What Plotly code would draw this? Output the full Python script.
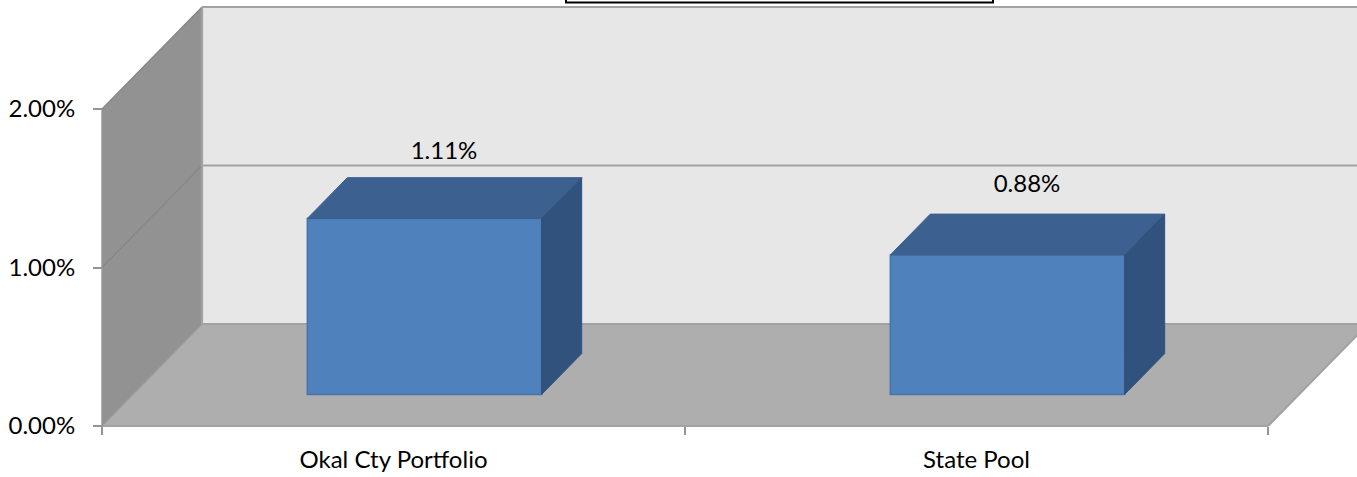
import plotly.graph_objects as go

categories = ["Okal Cty Portfolio", "State Pool"]
values = [1.11, 0.88]
value_labels = ["1.11%", "0.88%"]
y_ticks = [0, 1, 2]
y_tick_labels = ["0.00%", "1.00%", "2.00%"]
x_band_edges = [0, 1, 2]

W, H = 1357, 477
X0, Y0 = 102, 426
PX_X, PX_Y = 583.0, 158.5
DEPTH_X, DEPTH_Y = 100 / PX_X, 102 / PX_Y   # oblique offset of the full floor depth
BAR_W = 0.402
D1, D2 = 0.31, 0.71     # bar front and back depth
LABEL_RAISE = [0.61, 0.635]
FONT = dict(family="Lato", size=24, color="#000000")
EDGE = "#a2a2a2"


def proj(x, y, d=0.0):
    return x + d * DEPTH_X, y + d * DEPTH_Y


def poly_path(pts):
    return "M " + " L ".join(f"{x},{y}" for x, y in pts) + " Z"


def seg(p, q, color=EDGE, width=2.2):
    return dict(type="line", xref="x", yref="y", layer="below",
                x0=p[0], y0=p[1], x1=q[0], y1=q[1],
                line=dict(color=color, width=width))


xmax, ymax = x_band_edges[-1], y_ticks[-1]
shapes = [
    dict(type="path", xref="x", yref="y", layer="below", line_width=0, fillcolor="#e7e7e7",
         path=poly_path([proj(0, 0, 1), proj(xmax, 0, 1), proj(xmax, ymax, 1), proj(0, ymax, 1)])),
    dict(type="path", xref="x", yref="y", layer="below", line_width=0, fillcolor="#929292",
         path=poly_path([proj(0, 0, 0), proj(0, 0, 1), proj(0, ymax, 1), proj(0, ymax, 0)])),
    dict(type="path", xref="x", yref="y", layer="below", line_width=0, fillcolor="#aeaeae",
         path=poly_path([proj(0, 0, 0), proj(xmax, 0, 0), proj(xmax, 0, 1), proj(0, 0, 1)])),
]
for t in y_ticks[1:]:
    shapes.append(seg(proj(0, t, 0), proj(0, t, 1), "#868686", 1.2))
    shapes.append(seg(proj(0, t, 1), proj(xmax, t, 1)))
shapes += [
    seg(proj(0, 0, 1), proj(0, ymax, 1)),
    seg(proj(0, 0, 1), proj(xmax, 0, 1)),
    seg(proj(0, 0, 0), proj(xmax, 0, 0)),
    seg(proj(xmax, 0, 0), proj(xmax, 0, 1)),
    seg(proj(0, 0, 0), proj(0, ymax, 0), "#969696", 1.4),
    seg(proj(0, 0, 0), proj(0, 0, 1), "#9a9a9a", 1.2),
    dict(type="rect", xref="paper", yref="paper", layer="above",
         x0=566 / W, x1=993 / W, y0=1 - 2.5 / H, y1=1.02,
         fillcolor="white", line=dict(color="#000000", width=2)),
]

fig = go.Figure()
centers = [0.5 + i + (D1 * DEPTH_X) for i in range(len(categories))]
bases = [D1 * DEPTH_Y] * len(categories)
fig.add_trace(go.Bar(x=centers, y=values, base=bases, width=BAR_W,
                     marker=dict(color="#4f81bd", line=dict(color="#4675ad", width=1.5))))

for i, v in enumerate(values):
    xl = i + 0.5 - BAR_W / 2
    xr = i + 0.5 + BAR_W / 2
    top = [proj(xl, v, D1), proj(xr, v, D1), proj(xr, v, D2), proj(xl, v, D2)]
    side = [proj(xr, 0, D1), proj(xr, 0, D2), proj(xr, v, D2), proj(xr, v, D1)]
    for pts, col in ((top, "#3c6090"), (side, "#30527c")):
        xs = [p[0] for p in pts] + [pts[0][0]]
        ys = [p[1] for p in pts] + [pts[0][1]]
        fig.add_trace(go.Scatter(x=xs, y=ys, mode="lines", fill="toself", fillcolor=col,
                                 line=dict(color=col, width=1), hoverinfo="skip"))

fig.add_trace(go.Scatter(
    x=[i + 0.5 + 0.505 * DEPTH_X for i in range(len(values))],
    y=[v + r for v, r in zip(values, LABEL_RAISE)],
    mode="text", text=value_labels, textposition="middle center", textfont=FONT))

fig.update_layout(
    width=W, height=H, margin=dict(l=0, r=0, t=0, b=0), showlegend=False,
    paper_bgcolor="white", plot_bgcolor="white", shapes=shapes, font=FONT,
    xaxis=dict(range=[-X0 / PX_X, (W - X0) / PX_X], domain=[0, 1], showgrid=False, zeroline=False,
               showline=False, anchor="free", position=(H - Y0) / H,
               tickmode="array", tickvals=[i + 0.5 for i in range(len(categories))],
               ticktext=categories, ticks="", ticklabelstandoff=17,
               minor=dict(tickmode="array", tickvals=x_band_edges, ticks="outside",
                          ticklen=8, tickwidth=2, tickcolor="#949494", showgrid=False)),
    yaxis=dict(range=[(Y0 - H) / PX_Y, Y0 / PX_Y], domain=[0, 1], showgrid=False, zeroline=False,
               showline=False, anchor="free", position=X0 / W,
               tickmode="array", tickvals=y_ticks, ticktext=y_tick_labels,
               ticks="outside", ticklen=9, tickwidth=2, tickcolor="#949494", ticklabelstandoff=13),
)

fig.write_html("out.html", post_script="document.body.style.margin='0';",
               config={"displayModeBar": False})
